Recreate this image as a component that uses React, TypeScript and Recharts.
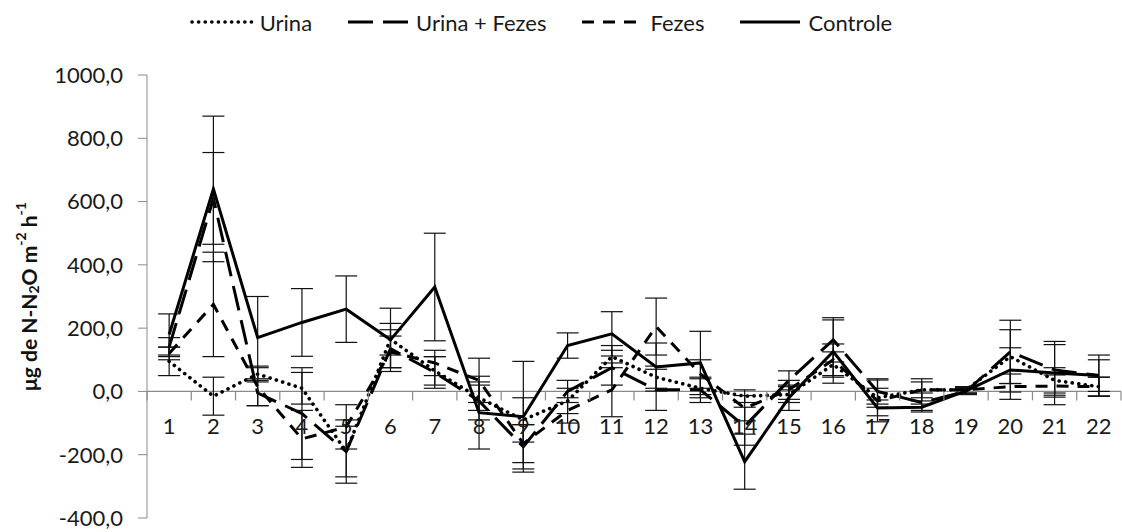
import { CartesianGrid, ErrorBar, Legend, Line, LineChart, ReferenceLine, XAxis, YAxis } from 'recharts';

const cats = ['1', '2', '3', '4', '5', '6', '7', '8', '9', '10', '11', '12', '13', '14', '15', '16', '17', '18', '19', '20', '21', '22'];

const urina = [95, -15, 55, 10, -190, 165, 65, -20, -90, -30, 110, 45, 10, -15, -10, 85, -20, 5, 5, 110, 35, 15];
const urinaErr = [45, 60, 25, 50, 100, 50, 45, 40, 70, 40, 35, 35, 30, 20, 25, 40, 30, 25, 10, 85, 40, 30];

const urinaFezes = [140, 610, -5, -70, -190, 135, 60, -30, -175, 0, 75, 5, 5, -110, 35, 163, 0, -35, 0, 125, 68, 50];
const urinaFezesErr = [30, 145, 40, 145, 80, 60, 50, 60, 70, 35, 55, 65, 40, 60, 30, 70, 40, 30, 10, 100, 80, 50];

const fezes = [120, 275, 15, -150, -112, 125, 90, 35, -165, -60, 5, 205, 55, -53, 5, 100, -30, 5, 5, 15, 17, 15];
const fezesErr = [20, 165, 60, 90, 70, 50, 40, 70, 60, 40, 85, 90, 45, 40, 30, 50, 66, 35, 10, 40, 35, 30];

const controle = [180, 640, 170, 218, 260, 163, 330, -67, -80, 145, 182, 77, 90, -222, -20, 126, -52, -50, 2, 68, 58, 50];
const controleErr = [65, 230, 130, 107, 105, 100, 170, 115, 175, 40, 70, 76, 100, 87, 40, 100, 25, 10, 10, 70, 100, 65];

const yTicks = [-400, -200, 0, 200, 400, 600, 800, 1000];

const data = cats.map((cat, i) => ({
  cat,
  urina: urina[i], urinaErr: urinaErr[i],
  urinaFezes: urinaFezes[i], urinaFezesErr: urinaFezesErr[i],
  fezes: fezes[i], fezesErr: fezesErr[i],
  controle: controle[i], controleErr: controleErr[i],
}));

const W = 1122;
const H = 532;
const FONT = 'Lato, "Open Sans", sans-serif';
const Y_MIN = -400;
const Y_MAX = 1000;
const LEFT = 147;
const RIGHT = 1;
const TOP = 75;
const LEGEND_H = 34;
const X_AXIS_H = 14;
const PLOT_W = W - LEFT - RIGHT;
const PLOT_H = H - TOP - X_AXIS_H;
const ZERO_Y = TOP + (PLOT_H * Y_MAX) / (Y_MAX - Y_MIN);
const BAND = PLOT_W / cats.length;
const AXIS = '#8a8a8a';

const series = [
  { key: 'urina', name: 'Urina', dash: '0.1 6.5', cap: 'round' as const, width: 3.6 },
  { key: 'urinaFezes', name: 'Urina + Fezes', dash: '25 10', cap: 'butt' as const, width: 3 },
  { key: 'fezes', name: 'Fezes', dash: '12 9', cap: 'butt' as const, width: 3 },
  { key: 'controle', name: 'Controle', dash: undefined, cap: 'butt' as const, width: 3 },
];

// category labels sit under the zero line, ticks go between categories (Excel style)
function CatTick(props: any) {
  const { x, payload, index } = props;
  const left = x - BAND / 2;
  return (
    <g>
      <line x1={left} x2={left} y1={ZERO_Y} y2={ZERO_Y + 9} stroke={AXIS} strokeWidth={1.2} />
      {index === cats.length - 1 && (
        <line x1={x + BAND / 2} x2={x + BAND / 2} y1={ZERO_Y} y2={ZERO_Y + 9} stroke={AXIS} strokeWidth={1.2} />
      )}
      <text x={x} y={ZERO_Y + 42.5} textAnchor="middle" fill="#1a1a1a" fontSize={22} fontFamily={FONT}>
        {payload.value}
      </text>
    </g>
  );
}

function YLabel(props: any) {
  const vb = props.viewBox || { x: 0, y: TOP, height: PLOT_H };
  const cx = vb.x + 28;
  const cy = vb.y + vb.height / 2;
  return (
    <text
      x={cx} y={cy} transform={`rotate(-90, ${cx}, ${cy})`} textAnchor="middle" dominantBaseline="central"
      fontFamily={FONT} fontWeight="bold" fontSize={21} fill="#111"
    >
      μg de N-N<tspan dy={5} fontSize={14}>2</tspan>
      <tspan dy={-5}>O m</tspan>
      <tspan dy={-8} fontSize={14}>-2</tspan>
      <tspan dy={8}> h</tspan>
      <tspan dy={-8} fontSize={14}>-1</tspan>
    </text>
  );
}

function LegendRow() {
  return (
    <div style={{
      display: 'flex', justifyContent: 'center', alignItems: 'center', height: LEGEND_H,
      fontFamily: FONT, fontSize: 22, color: '#1a1a1a', paddingRight: 40,
    }}>
      {series.map((s) => (
        <div key={s.key} style={{ display: 'flex', alignItems: 'center', marginLeft: 17, marginRight: 17 }}>
          <svg width={64} height={10} style={{ marginRight: 6 }}>
            <line x1={2} x2={62} y1={5} y2={5} stroke="#000" strokeWidth={s.width}
              strokeDasharray={s.dash} strokeLinecap={s.cap} />
          </svg>
          <span>{s.name}</span>
        </div>
      ))}
    </div>
  );
}

export default function App() {
  return (
    <div style={{ position: 'absolute', left: 0, top: 0, width: W, height: H, background: '#fff' }}>
      <LineChart width={W} height={H} data={data} margin={{ top: TOP - LEGEND_H, right: RIGHT, bottom: 0, left: 0 }}>
        <CartesianGrid stroke="none" />
        <Legend verticalAlign="top" content={<LegendRow />} wrapperStyle={{ top: 5, left: 0, width: W, height: LEGEND_H }} />
        <XAxis
          dataKey="cat" scale="band" interval={0} height={X_AXIS_H}
          axisLine={false} tickLine={false} tick={<CatTick />}
        />
        <YAxis
          domain={[Y_MIN, Y_MAX]} ticks={yTicks} width={LEFT} allowDataOverflow
          tickFormatter={(v: number) => v.toFixed(1).replace('.', ',')}
          tick={{ fill: '#1a1a1a', fontSize: 22, fontFamily: FONT }}
          stroke={AXIS} tickSize={9} tickMargin={15}
          label={<YLabel />}
        />
        <ReferenceLine y={0} stroke={AXIS} strokeWidth={1.3} />
        {series.map((s) => (
          <Line
            key={s.key} type="linear" dataKey={s.key} name={s.name} stroke="#000" strokeWidth={s.width}
            strokeDasharray={s.dash} strokeLinecap={s.cap} dot={false} activeDot={false} isAnimationActive={false}
          >
            <ErrorBar dataKey={`${s.key}Err`} width={11} stroke="#111" strokeWidth={1.2} direction="y" />
          </Line>
        ))}
      </LineChart>
    </div>
  );
}
